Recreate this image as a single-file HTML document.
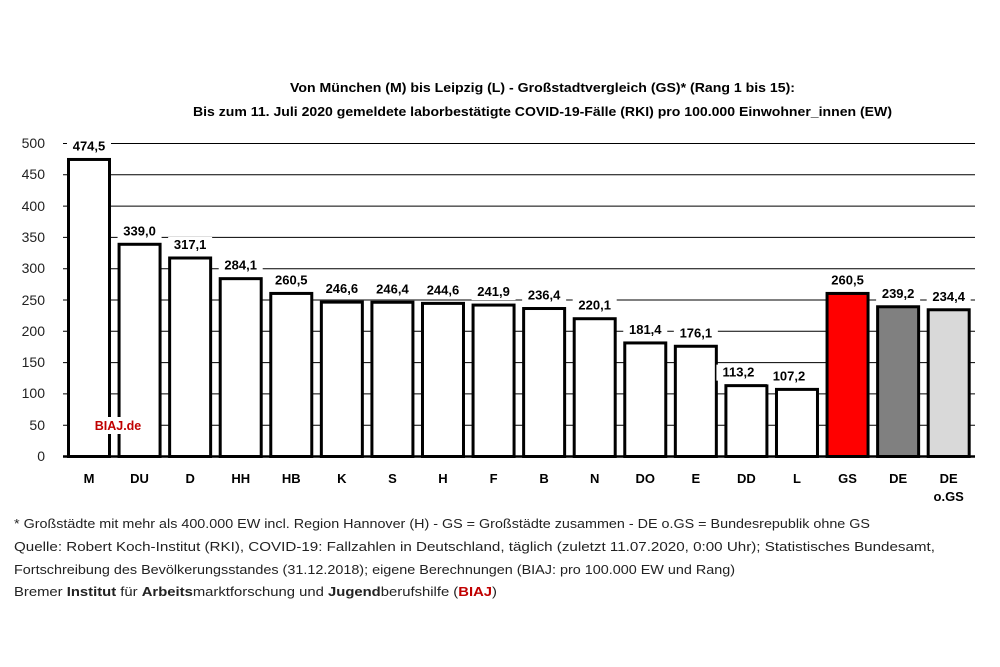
<!DOCTYPE html>
<html><head><meta charset="utf-8"><style>
body{margin:0;background:#fff;}
svg{display:block;font-family:"Liberation Sans",sans-serif;}
</style></head><body>
<svg width="1000" height="667" viewBox="0 0 1000 667" xmlns="http://www.w3.org/2000/svg">
<rect width="1000" height="667" fill="#fff"/>
<text x="290" y="92" font-size="13" font-weight="bold" textLength="505" lengthAdjust="spacingAndGlyphs">Von München (M) bis Leipzig (L)  - Großstadtvergleich (GS)* (Rang 1 bis 15):</text>
<text x="193" y="116" font-size="13" font-weight="bold" textLength="699" lengthAdjust="spacingAndGlyphs">Bis zum 11. Juli 2020 gemeldete laborbestätigte COVID-19-Fälle (RKI) pro 100.000 Einwohner_innen (EW)</text>
<g stroke="#000" stroke-width="1">
<line x1="63" x2="975" y1="143.5" y2="143.5"/><line x1="63" x2="975" y1="174.8" y2="174.8"/>
<line x1="63" x2="975" y1="206.1" y2="206.1"/><line x1="63" x2="975" y1="237.4" y2="237.4"/>
<line x1="63" x2="975" y1="268.7" y2="268.7"/><line x1="63" x2="975" y1="300" y2="300"/>
<line x1="63" x2="975" y1="331.3" y2="331.3"/><line x1="63" x2="975" y1="362.6" y2="362.6"/>
<line x1="63" x2="975" y1="393.9" y2="393.9"/><line x1="63" x2="975" y1="425.2" y2="425.2"/>
</g>
<g font-size="14" text-anchor="end" fill="#222">
<text x="45" y="148">500</text><text x="45" y="179">450</text><text x="45" y="211">400</text>
<text x="45" y="242">350</text><text x="45" y="273">300</text><text x="45" y="305">250</text>
<text x="45" y="336">200</text><text x="45" y="367">150</text><text x="45" y="398">100</text>
<text x="45" y="430">50</text><text x="45" y="461">0</text>
</g>
<g id="bars" stroke="#000" stroke-width="3"></g>
<line x1="63" x2="975" y1="456.5" y2="456.5" stroke="#000" stroke-width="2.5"/>
<rect x="95" y="417" width="47" height="17" fill="#fff"/>
<text x="118" y="430" font-size="12.5" font-weight="bold" fill="#c00000" text-anchor="middle">BIAJ.de</text>
<g id="labels" font-size="13" font-weight="bold" text-anchor="middle"></g>
<g font-size="13" fill="#222" lengthAdjust="spacingAndGlyphs">
<text x="14" y="528" textLength="856" lengthAdjust="spacingAndGlyphs">* Großstädte mit mehr als 400.000 EW incl. Region Hannover (H) - GS = Großstädte zusammen - DE o.GS = Bundesrepublik ohne GS</text>
<text x="14" y="551" textLength="921" lengthAdjust="spacingAndGlyphs">Quelle: Robert Koch-Institut (RKI), COVID-19: Fallzahlen in Deutschland, täglich (zuletzt 11.07.2020, 0:00 Uhr); Statistisches Bundesamt,</text>
<text x="14" y="574" textLength="721" lengthAdjust="spacingAndGlyphs">Fortschreibung des Bevölkerungsstandes (31.12.2018); eigene Berechnungen (BIAJ: pro 100.000 EW und Rang)</text>
<text x="14" y="596" textLength="483" lengthAdjust="spacingAndGlyphs">Bremer <tspan font-weight="bold">Institut</tspan> für <tspan font-weight="bold">Arbeits</tspan>marktforschung und <tspan font-weight="bold">Jugend</tspan>berufshilfe (<tspan font-weight="bold" fill="#c00000">BIAJ</tspan>)</text>
</g>
<script>
var d=[["M",474.5],["DU",339.0],["D",317.1],["HH",284.1],["HB",260.5],["K",246.6],["S",246.4],["H",244.6],["F",241.9],["B",236.4],["N",220.1],["DO",181.4],["E",176.1],["DD",113.2],["L",107.2],["GS",260.5],["DE",239.2],["DE",234.4]];
var ns="http://www.w3.org/2000/svg",b=document.getElementById("bars"),l=document.getElementById("labels"),s=document.querySelector("svg");
function el(t,a,p){var e=document.createElementNS(ns,t);for(var k in a)e.setAttribute(k,a[k]);p.appendChild(e);return e;}
d.forEach(function(v,i){var cx=89+50.57*i,y=456.5-v[1]*0.626;
var f=i==15?"#ff0000":i==16?"#808080":i==17?"#d9d9d9":"#fff";
el("rect",{x:cx-20.5,y:y,width:41,height:456.5-y,fill:f},b);
var ty=y-9,tx=cx+(i==0?0:(i>=13&&i<=14?-8:0));
el("rect",{x:tx-22,y:ty-12,width:44,height:16,fill:"#fff",stroke:"none"},l);
var t=el("text",{x:tx,y:ty},l);t.textContent=v[1].toFixed(1).replace(".",",");
var c=el("text",{x:cx,y:483,"font-size":"13","font-weight":"bold","text-anchor":"middle"},s);c.textContent=v[0];
});
var c=el("text",{x:89+50.57*17,y:501,"font-size":"13","font-weight":"bold","text-anchor":"middle"},s);c.textContent="o.GS";
</script>
</svg>
</body></html>
